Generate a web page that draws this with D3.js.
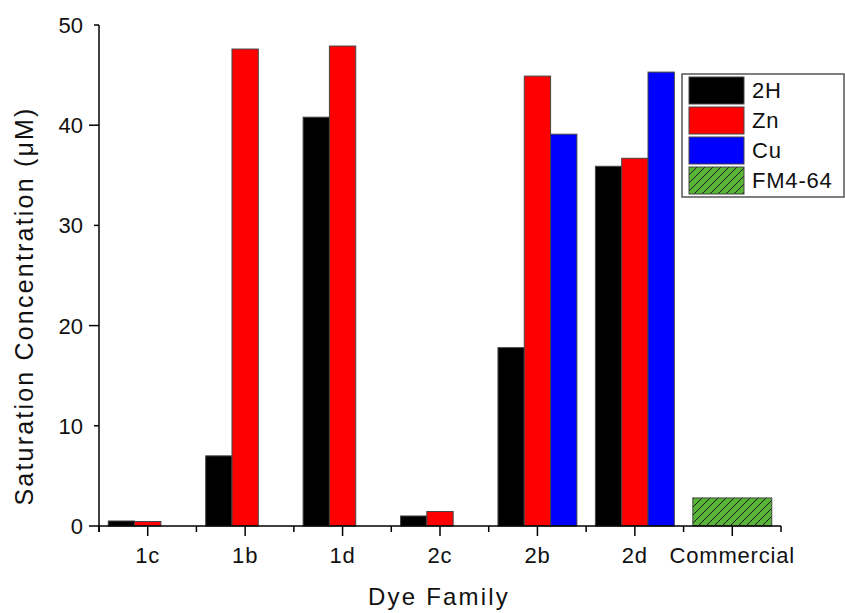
<!DOCTYPE html>
<html>
<head>
<meta charset="utf-8">
<script src="https://cdn.jsdelivr.net/npm/d3@7"></script>
<style>
  html, body { margin: 0; padding: 0; background: #fff; }
  svg { display: block; font-family: "Liberation Sans", Arial, Helvetica, sans-serif; }
</style>
</head>
<body>
<svg id="chart" width="845" height="613"></svg>
<script>
// Dye families along the x axis
const categories = ["1c", "1b", "1d", "2c", "2b", "2d", "Commercial"];
// Saturation concentration (µM) per metal centre; null = not measured
const series = ["2H", "Zn", "Cu"];
const values2H = [0.5, 7.0, 40.8, 1.0, 17.8, 35.9, null];
const valuesZn = [0.45, 47.6, 47.9, 1.45, 44.9, 36.7, null];
const valuesCu = [null, null, null, null, 39.1, 45.3, null];
// Commercial reference dye
const valuesFM = [null, null, null, null, null, null, 2.8];
const legendLabels = ["2H", "Zn", "Cu", "FM4-64"];
const yTicks = [0, 10, 20, 30, 40, 50];

const colors = { "2H": "#000000", "Zn": "#ff0000", "Cu": "#0000ff", "FM4-64": "#58b537" };

const svg = d3.select("#chart");
const plot = { left: 99, right: 781, top: 25, bottom: 526 };

// hatch pattern for the commercial dye
const defs = svg.append("defs");
const pat = defs.append("pattern")
  .attr("id", "hatch").attr("patternUnits", "userSpaceOnUse")
  .attr("width", 8).attr("height", 8);
pat.append("rect").attr("width", 8).attr("height", 8).attr("fill", colors["FM4-64"]);
pat.append("path").attr("d", "M-2,2 L2,-2 M0,8 L8,0 M6,10 L10,6")
  .attr("stroke", "#1a1a1a").attr("stroke-width", 1);

const x = d3.scaleBand().domain(categories).range([plot.left, plot.right]).padding(0);
const y = d3.scaleLinear().domain([0, 50]).range([plot.bottom, plot.top]);
const bw = x.bandwidth();
const slot = d3.scaleBand().domain(series).range([bw * 0.095, bw * 0.905]).padding(0);

const rows = [];
categories.forEach((c, i) => {
  [["2H", values2H], ["Zn", valuesZn], ["Cu", valuesCu]].forEach(([s, arr]) => {
    if (arr[i] != null) rows.push({ c, s, v: arr[i], x0: x(c) + slot(s), w: slot.bandwidth(), fill: colors[s] });
  });
  if (valuesFM[i] != null) rows.push({ c, s: "FM4-64", v: valuesFM[i], x0: x(c) + bw * 0.095, w: bw * 0.81, fill: "url(#hatch)" });
});

svg.append("g").selectAll("rect").data(rows).join("rect")
  .attr("x", d => d.x0).attr("width", d => d.w)
  .attr("y", d => y(d.v)).attr("height", d => y(0) - y(d.v))
  .attr("fill", d => d.fill)
  .attr("stroke", "#444").attr("stroke-width", 1);

// y axis: long ticks at 0/20/40, short at 10/30/50
const yAxis = svg.append("g").attr("transform", `translate(${plot.left},0)`);
yAxis.append("line").attr("x1", 0).attr("x2", 0).attr("y1", plot.top).attr("y2", plot.bottom + 6)
  .attr("stroke", "#000").attr("stroke-width", 1.5);
yAxis.selectAll("line.tick").data(yTicks).join("line").attr("class", "tick")
  .attr("x1", d => d % 20 === 0 ? -10 : -5).attr("x2", 0)
  .attr("y1", d => y(d)).attr("y2", d => y(d))
  .attr("stroke", "#000").attr("stroke-width", 1.5);
yAxis.selectAll("text").data(yTicks).join("text")
  .attr("x", -16).attr("y", d => y(d)).attr("dy", "0.36em")
  .attr("text-anchor", "end").attr("font-size", 22).attr("fill", "#111")
  .text(d => d);

// x axis
const xAxis = svg.append("g");
xAxis.append("line").attr("x1", plot.left).attr("x2", plot.right).attr("y1", plot.bottom).attr("y2", plot.bottom)
  .attr("stroke", "#000").attr("stroke-width", 1.5);
const edges = categories.map(c => x(c)).concat([x(categories[categories.length - 1]) + bw]);
xAxis.selectAll("line.minor").data(edges).join("line").attr("class", "minor")
  .attr("x1", d => d).attr("x2", d => d).attr("y1", plot.bottom).attr("y2", plot.bottom + 6)
  .attr("stroke", "#000").attr("stroke-width", 1.5);
xAxis.selectAll("line.major").data(categories).join("line").attr("class", "major")
  .attr("x1", d => x(d) + bw / 2).attr("x2", d => x(d) + bw / 2)
  .attr("y1", plot.bottom).attr("y2", plot.bottom + 10)
  .attr("stroke", "#000").attr("stroke-width", 1.5);
xAxis.selectAll("text").data(categories).join("text")
  .attr("x", d => x(d) + bw / 2).attr("y", 563)
  .attr("text-anchor", "middle").attr("font-size", 22).attr("letter-spacing", 0.8).attr("fill", "#111")
  .text(d => d);

// axis titles
svg.append("text").attr("x", 439).attr("y", 605).attr("text-anchor", "middle")
  .attr("font-size", 24).attr("letter-spacing", 2.2).attr("fill", "#111").text("Dye Family");
svg.append("text").attr("transform", "translate(33,306) rotate(-90)").attr("text-anchor", "middle")
  .attr("font-size", 25).attr("letter-spacing", 2.2).attr("fill", "#111").text("Saturation Concentration (\u03BCM)");

// legend
const lg = svg.append("g").attr("transform", "translate(682,74)");
lg.append("rect").attr("x", 0).attr("y", 0).attr("width", 162).attr("height", 123)
  .attr("fill", "#fff").attr("stroke", "#555").attr("stroke-width", 1.5);
const item = lg.selectAll("g.item").data(legendLabels).join("g").attr("class", "item")
  .attr("transform", (d, i) => `translate(7,${3 + i * 30})`);
item.append("rect").attr("width", 55).attr("height", 27)
  .attr("fill", d => d === "FM4-64" ? "url(#hatch)" : colors[d])
  .attr("stroke", "#444").attr("stroke-width", 1);
item.append("text").attr("x", 63).attr("y", 13.5).attr("dy", "0.36em")
  .attr("font-size", 22).attr("letter-spacing", 0.8).attr("fill", "#111").text(d => d);
</script>
</body>
</html>
